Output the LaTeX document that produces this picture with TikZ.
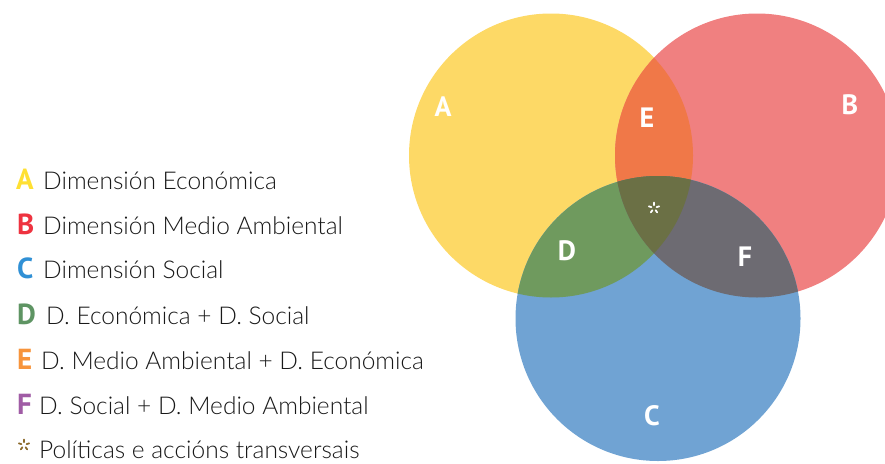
\documentclass[tikz,border=0pt]{standalone}
\usepackage{fontspec}
\setmainfont{Lato}[UprightFont={* Light}]
\newfontfamily\lblfont{PT Sans}[BoldFont={* Bold}]
\definecolor{cA}{HTML}{FDD966}
\definecolor{cB}{HTML}{F08080}
\definecolor{cC}{HTML}{70A3D3}
\definecolor{cD}{HTML}{6F9A5E}
\definecolor{cE}{HTML}{F07848}
\definecolor{cF}{HTML}{6D6B72}
\definecolor{cG}{HTML}{6B7045}
\definecolor{lA}{HTML}{FFE033}
\definecolor{lB}{HTML}{EE3340}
\definecolor{lC}{HTML}{3090D5}
\definecolor{lD}{HTML}{5E9463}
\definecolor{lE}{HTML}{F7943B}
\definecolor{lF}{HTML}{A05CA5}
\definecolor{lS}{HTML}{8C6A2B}
\begin{document}
\begin{tikzpicture}[x=1pt,y=-1pt,
  venlbl/.style={text=white,font=\lblfont\bfseries\fontsize{28}{28}\selectfont,inner sep=0pt},
  leglet/.style={font=\lblfont\bfseries\fontsize{29}{29}\selectfont,inner sep=0pt,anchor=base west},
  legtxt/.style={font=\fontsize{24.5}{24.5}\selectfont,inner sep=0pt,anchor=base west,text=black!90},
  petal/.style={line width=1.8pt,line cap=round}]
\useasboundingbox (0,0) rectangle (885,463);
\begin{scope}
\clip (0,0) rectangle (885,463);
\fill[cA] (551,155.5) circle (142);
\fill[cB] (757,155.5) circle (142);
\fill[cC] (658,318.5) circle (142.5);
\begin{scope}\clip (551,155.5) circle (142); \fill[cE] (757,155.5) circle (142);\end{scope}
\begin{scope}\clip (551,155.5) circle (142); \fill[cD] (658,318.5) circle (142.5);\end{scope}
\begin{scope}\clip (757,155.5) circle (142); \fill[cF] (658,318.5) circle (142.5);\end{scope}
\begin{scope}\clip (551,155.5) circle (142); \clip (757,155.5) circle (142); \fill[cG] (658,318.5) circle (142.5);\end{scope}
\end{scope}
\node[venlbl] (nA) at (443,107) {A};
\node[venlbl] (nB) at (850,105) {B};
\node[venlbl] (nC) at (652,416) {C};
\node[venlbl] (nD) at (567,251) {D};
\node[venlbl] (nE) at (647,118) {E};
\node[venlbl] (nF) at (745,257) {F};
% central star
\coordinate (nS) at (654,208);
\foreach \a in {90,162,234,306,18}
  \draw[petal,white] (nS) ++(\a:-2.8) -- ++(\a:-2.6);
% legend
\node[leglet,text=lA] (gA) at (16,189) {A};
\node[leglet,text=lB] (gB) at (17,234) {B};
\node[leglet,text=lC] (gC) at (17,278) {C};
\node[leglet,text=lD] (gD) at (17,324) {D};
\node[leglet,text=lE] (gE) at (17,369) {E};
\node[leglet,text=lF] (gF) at (17,414) {F};
\coordinate (gS) at (24,445);
\foreach \a in {90,162,234,306,18}
  \draw[petal,lS] (gS) ++(\a:-2.8) -- ++(\a:-2.6);
\node[legtxt] (tA) at (43,189) {Dimensión Económica};
\node[legtxt] (tB) at (43,234) {Dimensión Medio Ambiental};
\node[legtxt] (tC) at (43,278) {Dimensión Social};
\node[legtxt] (tD) at (46,324) {D. Económica + D. Social};
\node[legtxt] (tE) at (41,369) {D. Medio Ambiental + D. Económica};
\node[legtxt] (tF) at (39,414) {D. Social + D. Medio Ambiental};
\node[legtxt] (tS) at (39,458) {Políticas e accións transversais};
\end{tikzpicture}
\end{document}
